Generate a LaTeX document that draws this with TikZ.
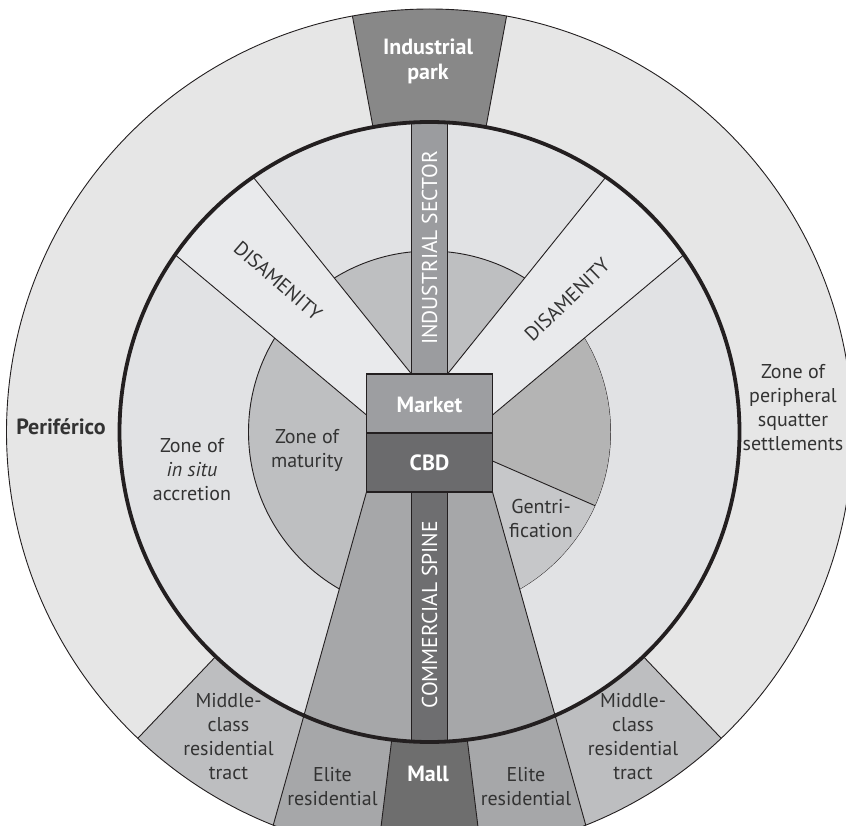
\documentclass[tikz,border=0pt]{standalone}
\usepackage{fontspec}
\setmainfont{PT Sans}
\usetikzlibrary{calc}
\definecolor{outerring}{HTML}{E6E6E6}
\definecolor{innerlight}{HTML}{E1E2E4}
\definecolor{disam}{HTML}{E9EAEC}
\definecolor{matur}{HTML}{BEBFC1}
\definecolor{darkin}{HTML}{B4B4B4}
\definecolor{gentri}{HTML}{C6C7C9}
\definecolor{commw}{HTML}{A6A7A9}
\definecolor{spine}{HTML}{6E6E70}
\definecolor{indstrip}{HTML}{9B9C9F}
\definecolor{marketc}{HTML}{9D9EA1}
\definecolor{cbdc}{HTML}{6B6B6D}
\definecolor{indpark}{HTML}{888888}
\definecolor{mallc}{HTML}{6E6E6E}
\definecolor{midcls}{HTML}{BDBEC0}
\definecolor{elite}{HTML}{A6A7A9}
\definecolor{ink}{HTML}{231F20}
\definecolor{txt}{HTML}{333333}
\begin{document}
\begin{tikzpicture}[x=1pt,y=-1pt,
  edge/.style={draw=ink, line width=0.9pt},
  lbl/.style={text=txt, align=center, font=\fontsize{20}{24}\selectfont, inner sep=0pt},
  blbl/.style={text=txt, align=center, font=\bfseries\fontsize{22}{25}\selectfont, inner sep=0pt},
  wlbl/.style={text=white, align=center, font=\bfseries\fontsize{22}{25}\selectfont, inner sep=0pt},
  striplbl/.style={text=white, rotate=90, font=\fontsize{21.5}{21.5}\selectfont, inner sep=0pt},
  disamlbl/.style={text=txt, font=\fontsize{20}{20}\selectfont, inner sep=0pt}]
\useasboundingbox (0,0) rectangle (846,826);
\clip (0,0) rectangle (846,826);
\coordinate (C) at (429.5,432);
% key points
\coordinate (A) at (366.5,492);
\coordinate (B) at (492.5,492);
\coordinate (FL) at (226.25,993);
\coordinate (FR) at (632.75,993);
\coordinate (Q1) at (411.5,374);
\coordinate (QU) at (99.5,-14);
\coordinate (Q2) at (366.5,415);
\coordinate (QL) at (-2.5,106);
\coordinate (Q1r) at (447.5,374);
\coordinate (QUr) at (759.5,-14);
\coordinate (Q2r) at (492.5,415);
\coordinate (QLr) at (861.5,106);
\coordinate (P2) at (492.5,461);
\coordinate (G2) at (802.4,596);
% outer disc
\fill[outerring] (C) circle [radius=423pt];
\begin{scope}
  \clip (C) circle [radius=423pt];
  \fill[midcls] (C) -- ($(C)+(226.4:800pt)$) -- ($(C)+(313.6:800pt)$) -- cycle;
  \draw[edge] (C) -- ($(C)+(226.4:800pt)$);
  \draw[edge] (C) -- ($(C)+(313.6:800pt)$);
  \fill[elite] (A) -- (FL) -- (FR) -- (B) -- cycle;
  \draw[edge] (A) -- (FL);
  \draw[edge] (B) -- (FR);
  \fill[mallc] (C) -- ($(C)+(263:800pt)$) -- ($(C)+(277:800pt)$) -- cycle;
  \draw[edge] (C) -- ($(C)+(263:800pt)$);
  \draw[edge] (C) -- ($(C)+(277:800pt)$);
  \fill[indpark] (C) -- ($(C)+(79.5:800pt)$) -- ($(C)+(100.5:800pt)$) -- cycle;
  \draw[edge] (C) -- ($(C)+(79.5:800pt)$);
  \draw[edge] (C) -- ($(C)+(100.5:800pt)$);
\end{scope}
% inner (thick) disc
\fill[innerlight] (C) circle [radius=310pt];
\begin{scope}
  \clip (C) circle [radius=310pt];
  \filldraw[fill=matur, edge] (C) circle [radius=181pt];
  \begin{scope}
    \clip (C) circle [radius=181pt];
    \fill[darkin] (Q2r) -- (QLr) -- (G2) -- (P2) -- cycle;
    \fill[gentri] (P2) -- (G2) -- (FR) -- (B) -- cycle;
    \draw[edge] (P2) -- (G2);
  \end{scope}
  % disamenity bands
  \fill[disam] (Q1) -- (QU) -- (QL) -- (Q2) -- (366.5,374) -- cycle;
  \draw[edge] (Q1) -- (QU);
  \draw[edge] (Q2) -- (QL);
  \fill[disam] (Q1r) -- (QUr) -- (QLr) -- (Q2r) -- (492.5,374) -- cycle;
  \draw[edge] (Q1r) -- (QUr);
  \draw[edge] (Q2r) -- (QLr);
  % commercial wedge
  \fill[commw] (A) -- (FL) -- (FR) -- (B) -- cycle;
  \draw[edge] (A) -- (FL);
  \draw[edge] (B) -- (FR);
  % strips
  \filldraw[fill=indstrip, edge] (411.5,374) rectangle (447.5,100);
  \filldraw[fill=spine, edge] (411.5,492) rectangle (447.5,760);
\end{scope}
\draw[ink, line width=3.8pt] (C) circle [radius=310pt];
\draw[ink, line width=0.9pt] (C) circle [radius=423pt];
% boxes
\filldraw[fill=marketc, draw=ink, line width=1.2pt] (366.5,374) rectangle (492.5,433);
\filldraw[fill=cbdc, draw=ink, line width=1.2pt] (366.5,433) rectangle (492.5,492);
% labels
\node[wlbl] (indparklbl) at (428,61) {Industrial\\park};
\node[wlbl] (marketlbl) at (429.5,405) {Market};
\node[wlbl] (cbdlbl) at (429.5,463) {CBD};
\node[wlbl] (malllbl) at (428,774) {Mall};
\node[striplbl] (indsec) at (429.5,248) {INDUSTRIAL SECTOR};
\node[striplbl] (comsp) at (429.5,615) {COMMERCIAL SPINE};
\node[disamlbl, rotate=-41] (disl) at (278,281) {DISAMENITY};
\node[disamlbl, rotate=44] (disr) at (567,300) {DISAMENITY};
\node[blbl] (perif) at (61,427) {Periférico};
\node[lbl] (insitu) at (192,470) {Zone of\\\textit{in situ}\\accretion};
\node[lbl] (maturity) at (307,450) {Zone of\\maturity};
\node[lbl] (squatter) at (793,408) {Zone of\\peripheral\\squatter\\settlements};
\node[lbl] (gentrif) at (541,518) {Gentri-\\fication};
\node[lbl] (midl) at (228.5,737) {Middle-\\class\\residential\\tract};
\node[lbl] (midr) at (633,737) {Middle-\\class\\residential\\tract};
\node[lbl] (elitel) at (332.5,787) {Elite\\residential};
\node[lbl] (eliter) at (526,787) {Elite\\residential};
\end{tikzpicture}
\end{document}
